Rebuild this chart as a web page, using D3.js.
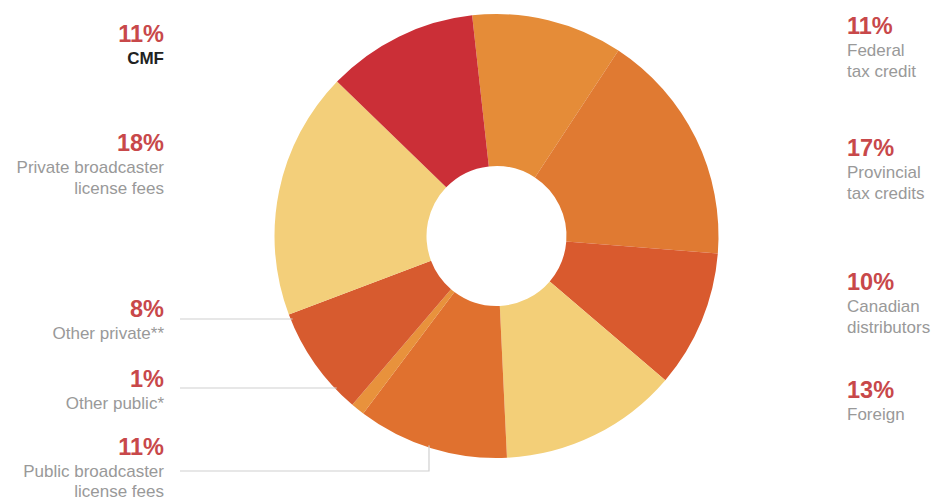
<!DOCTYPE html>
<html>
<head>
<meta charset="utf-8">
<script src="https://cdn.jsdelivr.net/npm/d3@7"></script>
<style>
  html, body { margin: 0; padding: 0; background: #ffffff; }
  svg { display: block; }
  .pct { font-family: "Liberation Sans", Arial, sans-serif; font-weight: bold; fill: #c8484a; font-size: 23.5px; }
  .lbl { font-family: "Liberation Sans", Arial, sans-serif; fill: #999999; font-size: 17px; }
  .cmf { font-family: "Liberation Sans", Arial, sans-serif; font-weight: bold; fill: #222; font-size: 17px; }
</style>
</head>
<body>
<script>
// Data, clockwise starting from the top (just left of 12 o'clock)
const categories = ["Federal tax credit", "Provincial tax credits", "Canadian distributors", "Foreign",
  "Public broadcaster license fees", "Other public*", "Other private**", "Private broadcaster license fees", "CMF"];
const values = [11, 17, 10, 13, 11, 1, 8, 18, 11];
const colors = ["#e58c38", "#e07a32", "#d95a2e", "#f3cf78", "#e0712f", "#e8923c", "#d75b2f", "#f3cf7a", "#cb2f37"];

// Label text lines
const pctLabels = ["11%", "17%", "10%", "13%", "11%", "1%", "8%", "18%", "11%"];
const nameLines = [["Federal", "tax credit"], ["Provincial", "tax credits"], ["Canadian", "distributors"], ["Foreign"],
  ["Public broadcaster", "license fees"], ["Other public*"], ["Other private**"], ["Private broadcaster", "license fees"], ["CMF"]];

const W = 937, H = 502;
const cx = 496.5, cy = 236, R = 222, r = 70;
const startDeg = -6.3;

const svg = d3.select("body").append("svg").attr("width", W).attr("height", H);

const pie = d3.pie().sort(null).value(d => d)
  .startAngle(startDeg * Math.PI / 180)
  .endAngle(startDeg * Math.PI / 180 + 2 * Math.PI);
const arc = d3.arc().innerRadius(r).outerRadius(R);

const g = svg.append("g").attr("transform", `translate(${cx},${cy})`);
g.selectAll("path").data(pie(values)).join("path")
  .attr("d", arc)
  .attr("fill", (d, i) => colors[i]);

// Label layout: [anchor x, pct baseline, text-anchor, line gap]
const layout = [
  [847, 34, "start", 21], [847, 156, "start", 21], [847, 290, "start", 21], [847, 398, "start", 21],
  [164, 455, "end", 20], [164, 387, "end", 21], [164, 317, "end", 21], [164, 151, "end", 21], [164, 42, "end", 21]
];

// Leader lines (left side, lower three)
const lineColor = "#d0d0d0";
const circleX = y => cx - Math.sqrt(R * R - (y - cy) * (y - cy));
[[319], [388]].forEach(([y]) => {
  svg.append("line").attr("x1", 180).attr("x2", circleX(y) + 2).attr("y1", y).attr("y2", y)
    .attr("stroke", lineColor).attr("stroke-width", 1.2);
});
{
  const y = 471, xv = 429;
  const yTop = cy + Math.sqrt(R * R - (xv - cx) * (xv - cx)) - 2;
  svg.append("polyline")
    .attr("points", `180,${y} ${xv},${y} ${xv},${yTop}`)
    .attr("fill", "none").attr("stroke", lineColor).attr("stroke-width", 1.2);
}

layout.forEach(([x, y, anchor, gap], i) => {
  svg.append("text").attr("class", "pct").attr("x", x).attr("y", y).attr("text-anchor", anchor).text(pctLabels[i]);
  nameLines[i].forEach((t, j) => {
    svg.append("text").attr("class", categories[i] === "CMF" ? "cmf" : "lbl")
      .attr("x", x).attr("y", y + 22 + j * gap).attr("text-anchor", anchor).text(t);
  });
});
</script>
</body>
</html>
